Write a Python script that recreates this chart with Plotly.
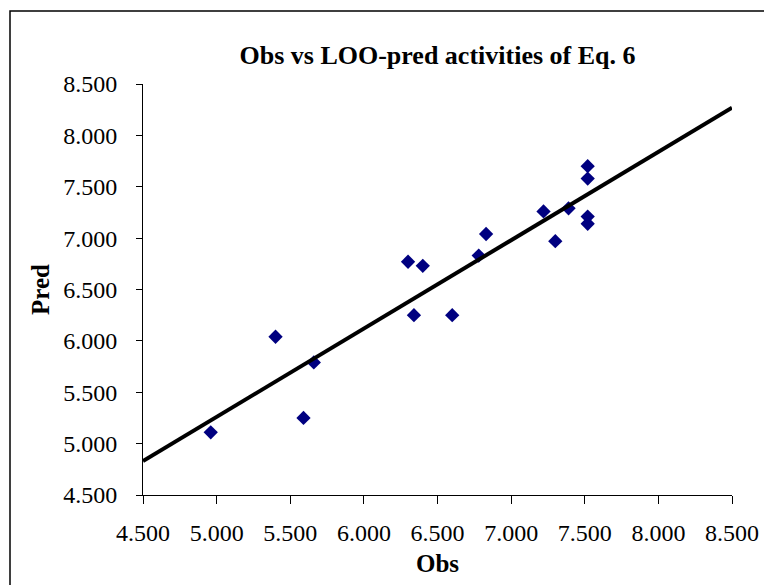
import plotly.graph_objects as go

obs = [4.96, 5.40, 5.59, 5.66, 6.30, 6.34, 6.40, 6.60, 6.78, 6.83,
       7.22, 7.30, 7.39, 7.52, 7.52, 7.52, 7.52]
pred = [5.11, 6.04, 5.25, 5.79, 6.77, 6.25, 6.73, 6.25, 6.83, 7.04,
        7.26, 6.97, 7.29, 7.70, 7.58, 7.21, 7.14]

# Trend line end points
trend_x = [4.5, 8.5]
trend_y = [4.83, 8.27]

tick_vals = [4.5, 5.0, 5.5, 6.0, 6.5, 7.0, 7.5, 8.0, 8.5]
tick_text = ["4.500", "5.000", "5.500", "6.000", "6.500", "7.000", "7.500", "8.000", "8.500"]

# page has an 8px body margin, so the figure is offset by 8px
OFF = 8
W, H = 772 - OFF, 585 - OFF
L, T = 143 - OFF, 84 - OFF
R = W - (732 - OFF)
B = H - (495 - OFF)
pw, ph = W - L - R, H - T - B

fig = go.Figure()
fig.add_trace(go.Scatter(
    x=obs, y=pred, mode="markers",
    marker=dict(symbol="diamond", size=11, color="#000080", line=dict(width=0)),
    showlegend=False, cliponaxis=False))
fig.add_trace(go.Scatter(
    x=trend_x, y=trend_y, mode="lines",
    line=dict(color="black", width=4),
    showlegend=False))

font_family = "Liberation Serif, Times New Roman, serif"

fig.update_layout(
    width=W, height=H,
    margin=dict(l=L, r=R, t=T, b=B, autoexpand=False),
    paper_bgcolor="white", plot_bgcolor="white",
    font=dict(family=font_family, color="black", size=24),
    title=dict(text="<b>Obs vs LOO-pred activities of Eq. 6</b>",
               x=0.5, xref="paper", xanchor="center",
               y=1 - (55 - OFF) / H, yref="container", yanchor="middle",
               font=dict(family=font_family, size=26, color="black")),
    xaxis=dict(range=[4.5, 8.5], tickvals=tick_vals, ticktext=tick_text,
               showgrid=False, zeroline=False, showline=True,
               linecolor="black", linewidth=1,
               ticks="outside", ticklen=8, tickcolor="black",
               ticklabelstandoff=8,
               tickfont=dict(size=24, family=font_family),
               title=dict(text="<b>Obs</b>", standoff=9,
                          font=dict(size=25, family=font_family))),
    yaxis=dict(range=[4.5, 8.5], tickvals=tick_vals, ticktext=tick_text,
               showgrid=False, zeroline=False, showline=True,
               linecolor="black", linewidth=1,
               ticks="outside", ticklen=6, tickcolor="black",
               ticklabelstandoff=14,
               tickfont=dict(size=24, family=font_family),
               title=dict(text="<b>Pred</b>", standoff=6,
                          font=dict(size=25, family=font_family))),
)

# Outer chart border
fig.add_shape(type="rect", xref="paper", yref="paper",
              x0=(10 - OFF - L) / pw, x1=(W + 10 - L) / pw,
              y0=-(H + 10 - (T + ph)) / ph, y1=(T + ph - (11 - OFF)) / ph,
              line=dict(color="black", width=1.5), fillcolor="rgba(0,0,0,0)",
              layer="below")

fig.write_html("out.html")
